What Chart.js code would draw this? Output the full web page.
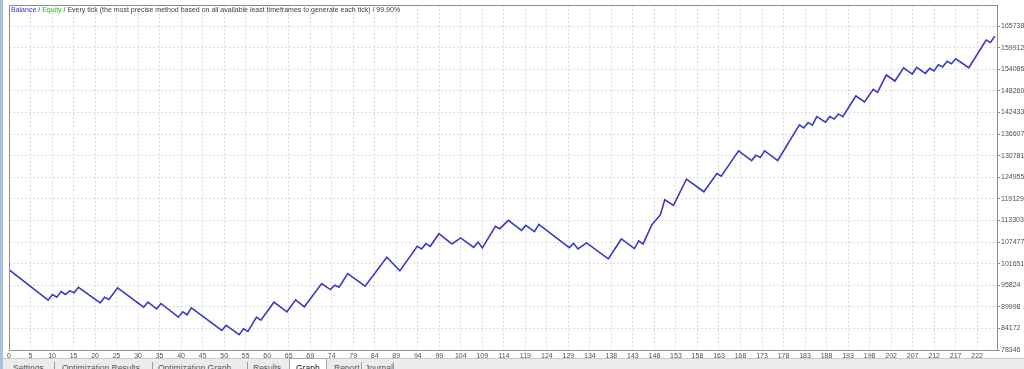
<!DOCTYPE html>
<html>
<head>
<meta charset="utf-8">
<title>Strategy Tester - Graph</title>
<script src="https://cdn.jsdelivr.net/npm/chart.js@4.4.1/dist/chart.umd.min.js"></script>
<style>
  body { margin: 0; background: #ffffff; }
  #wrap { position: relative; width: 1024px; height: 369px; overflow: hidden; font-family: "Liberation Sans", "DejaVu Sans", sans-serif; }
  #graph { position: absolute; left: 0; top: 0; }
  #leftFrame { position: absolute; left: 0; top: 0; width: 3px; height: 369px; background: #a9c0dc; }
  #header { position: absolute; left: 11px; top: 6px; font-size: 7px; color: #404040; white-space: nowrap; }
  #header .bal { color: #3434c4; }
  #header .eq { color: #2fb02f; }
  #tabs { position: absolute; left: 3px; top: 358px; width: 1021px; height: 11px; background: #ececec; border-top: 1px solid #c9c9c9; }
  .tab { position: absolute; top: 4px; font-size: 8.5px; color: #555; white-space: nowrap; }
  .sep { position: absolute; top: 3px; width: 1px; height: 9px; background: #9a9a9a; }
  .tab.active { top: -1px; padding: 4px 6px 0 6px; background: #ffffff; border: 1px solid #a8a8a8; border-bottom: none; color: #222; }
</style>
</head>
<body>
<div id="wrap">
  <canvas id="graph" width="1024" height="369"></canvas>
  <div id="leftFrame"></div>
  <div id="header"><span class="bal">Balance</span> / <span class="eq">Equity</span> / Every tick (the most precise method based on all available least timeframes to generate each tick) / 99.90%</div>
  <div id="tabs">
    <span class="tab" style="left:10px">Settings</span>
    <span class="sep" style="left:51px"></span>
    <span class="tab" style="left:59px">Optimization Results</span>
    <span class="sep" style="left:149px"></span>
    <span class="tab" style="left:155px">Optimization Graph</span>
    <span class="sep" style="left:244px"></span>
    <span class="tab" style="left:250px">Results</span>
    <span class="tab active" style="left:286px">Graph</span>
    <span class="tab" style="left:331px">Report</span>
    <span class="sep" style="left:358px"></span>
    <span class="tab" style="left:362px">Journal</span>
    <span class="sep" style="left:390px"></span>
  </div>
</div>

<script>
// trade number of each turning point on the balance curve
const tradeNums = [0, 9, 10, 11, 12, 13, 14, 15, 16, 21, 22, 23, 25, 31, 32, 34, 35, 39, 40, 41, 42,
  49, 50, 53, 54, 55, 57, 58, 61, 64, 66, 68, 72, 74, 75, 76, 78, 82, 87, 90,
  94, 95, 96, 97, 99, 102, 104, 107, 108, 109, 112, 113, 115, 118, 119, 121, 122,
  129, 130, 131, 133, 138, 141, 144, 145, 146, 148, 150, 151, 153, 156, 160,
  163, 164, 168, 171, 172, 173, 174, 177, 182, 183, 184, 185, 186, 188, 189, 190, 191, 192,
  195, 197, 199, 200, 202, 204, 206, 208, 209, 211, 212, 213, 214, 215, 216, 217, 218,
  221, 225, 226, 227];

// balance at those trades
const balances = [100000, 91770, 93310, 92580, 94120, 93310, 94300, 93770, 95270, 91070, 92580, 91960, 95110,
  89890, 91240, 89460, 90890, 87200, 88650, 87850, 89730,
  83620, 84970, 82460, 84080, 83350, 87200, 86390, 91240, 88650, 91880, 90000,
  96270, 94650, 95810, 95270, 98960, 95540, 103350, 99690,
  106310, 105610, 107030, 106310, 109720, 106950, 108570, 106040, 107490, 105880,
  111690, 111070, 113300, 110610, 111960, 110260, 112230,
  105960, 107110, 105610, 107220, 102920, 108300, 105690, 107760, 106950,
  112060, 114840, 118870, 117340, 124440, 121030,
  125950, 125250, 132060, 129450, 130900, 130260, 132060, 129450,
  139060, 138250, 139670, 138980, 141290, 139780, 141290, 140670, 142020, 141290,
  146860, 145240, 148660, 147850, 152510, 150900, 154470, 152780, 154580,
  152970, 154310, 153590, 155280, 154670, 156200, 155550, 156900,
  154470, 161930, 161310, 163000];

// x axis labels (one per vertical grid line)
const xTickLabels = [0, 5, 10, 15, 20, 25, 30, 35, 40, 45, 50, 55, 60, 65, 69, 74, 79, 84, 89, 94,
  99, 104, 109, 114, 119, 124, 129, 134, 138, 143, 148, 153, 158, 163, 168, 173, 178, 183,
  188, 193, 198, 202, 207, 212, 217, 222];

// y axis labels (bottom to top)
const yTickLabels = [78346, 84172, 89998, 95824, 101651, 107477, 113303, 119129, 124955,
  130781, 136607, 142433, 148260, 154086, 159912, 165738];

// axis ranges
const xMax = 227.5;
const xStep = 4.954;   // trades per grid line
const yMin = 78346;
const yMax = 171350;

let points = [];
for (let i = 0; i < tradeNums.length; i++) {
  points.push({ x: tradeNums[i], y: balances[i] });
}

// frame round the plot area
const framePlugin = {
  id: 'frame',
  afterDraw(chart) {
    const ctx = chart.ctx;
    const a = chart.chartArea;
    ctx.save();
    ctx.strokeStyle = '#8e8e8e';
    ctx.lineWidth = 1;
    ctx.strokeRect(Math.round(a.left) + 0.5, Math.round(a.top) + 0.5, Math.round(a.right - a.left), Math.round(a.bottom - a.top));
    ctx.restore();
  }
};

const ctx = document.getElementById('graph').getContext('2d');
let myChart = new Chart(ctx, {
  type: 'line',
  data: {
    datasets: [{
      label: 'Balance',
      data: points,
      borderColor: '#3a3ac6',
      borderWidth: 1.6,
      pointRadius: 0,
      tension: 0,
      fill: false
    }]
  },
  options: {
    responsive: false,
    animation: false,
    layout: { padding: { left: 9, top: 5, right: 0, bottom: 0 } },
    plugins: {
      legend: { display: false },
      tooltip: { enabled: false }
    },
    scales: {
      x: {
        type: 'linear',
        min: 0,
        max: xMax,
        afterBuildTicks: (scale) => {
          scale.ticks = xTickLabels.map((v, k) => ({ value: k * xStep }));
        },
        afterFit: (scale) => { scale.height = 19; },
        grid: { color: '#dadada', drawTicks: false },
        border: { display: false, dash: [2, 2] },
        ticks: {
          autoSkip: false,
          maxRotation: 0,
          padding: 2,
          color: '#505050',
          font: { family: 'Liberation Sans', size: 7 },
          callback: (value, index) => xTickLabels[index]
        }
      },
      y: {
        type: 'linear',
        position: 'right',
        min: yMin,
        max: yMax,
        afterBuildTicks: (scale) => {
          scale.ticks = yTickLabels.map(v => ({ value: v }));
        },
        afterFit: (scale) => { scale.width = 27; },
        grid: { color: '#dadada', drawTicks: true, tickLength: 3, tickColor: '#8e8e8e', tickBorderDash: [] },
        border: { display: false, dash: [2, 2] },
        ticks: {
          autoSkip: false,
          padding: 1,
          color: '#505050',
          font: { family: 'Liberation Sans', size: 7 },
          callback: (value, index) => String(yTickLabels[index])
        }
      }
    }
  },
  plugins: [framePlugin]
});
</script>
</body>
</html>
